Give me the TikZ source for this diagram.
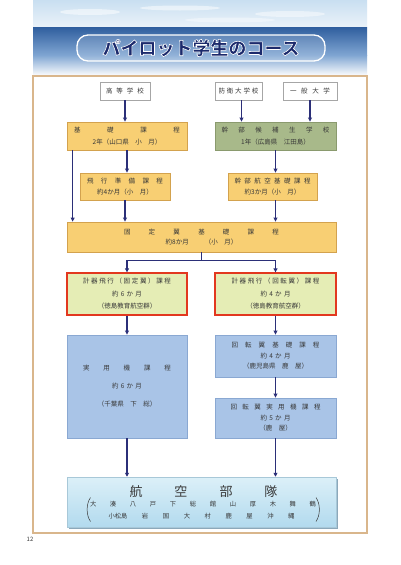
\documentclass[tikz,border=0pt]{standalone}
\usepackage{fontspec}
\newfontfamily\jp{Noto Sans CJK JP}
\usetikzlibrary{arrows.meta}
\definecolor{navy}{HTML}{2B2F78}
\definecolor{titlenavy}{HTML}{1C2A6C}
\definecolor{yfill}{HTML}{F8CF73}
\definecolor{yline}{HTML}{D3A24E}
\definecolor{gfill}{HTML}{A8B98A}
\definecolor{gline}{HTML}{8A9A6E}
\definecolor{lgfill}{HTML}{E5EDB5}
\definecolor{redline}{HTML}{E2381F}
\definecolor{bfill}{HTML}{A9C4E7}
\definecolor{bline}{HTML}{8AA8D2}
\definecolor{framec}{HTML}{D9B68C}
\definecolor{txt}{HTML}{383838}
\definecolor{skytop}{HTML}{C9DFF1}
\definecolor{skybot}{HTML}{EAF2F9}
\definecolor{seatop}{HTML}{2F5E9E}
\definecolor{seamid}{HTML}{7FA5D2}
\definecolor{kokutop}{HTML}{DCF0F8}
\definecolor{kokubot}{HTML}{B2DAEE}
\definecolor{kokushadow}{HTML}{8CA8BA}
\newcommand\spr[2]{\hbox to #1{#2}}
\newcommand\outlined[1]{\special{pdf:literal direct 2 Tr 0.6 w 1 1 1 RG}#1\special{pdf:literal direct 0 Tr}}
\tikzset{
  box/.style={draw, line width=0.7pt, inner sep=0pt, align=center, text=txt,
    font=\jp\fontsize{6.5}{12}\selectfont},
  wbox/.style={box, fill=white, draw=gray!70},
  ybox/.style={box, fill=yfill, draw=yline},
  gbox/.style={box, fill=gfill, draw=gline},
  rbox/.style={box, fill=lgfill, draw=redline, line width=1.1pt},
  bbox/.style={box, fill=bfill, draw=bline},
  arr/.style={navy, line width=1.2pt, -{Triangle[length=4pt,width=3.8pt]}},
  ln/.style={navy, line width=1.2pt},
  plain/.style={inner sep=0pt, text=txt},
}
\begin{document}
\begin{tikzpicture}[x=1pt,y=-1pt]
\useasboundingbox (0,0) rectangle (400,565);
\fill[white] (0,0) rectangle (400,565);
% banner
\shade[top color=skytop, bottom color=skybot] (33,0) rectangle (367,27);
\fill[white, opacity=0.5] (90,12) ellipse (30 and 3);
\fill[white, opacity=0.5] (180,8) ellipse (40 and 2.5);
\fill[white, opacity=0.45] (290,14) ellipse (35 and 3);
\fill[white, opacity=0.4] (230,20) ellipse (45 and 2.5);
\shade[top color=seatop, bottom color=seamid] (33,27) rectangle (367,55);
\shade[top color=seamid, bottom color=white] (33,55) rectangle (367,76);
\draw[white, line width=1.3pt, rounded corners=11pt, fill=white, fill opacity=0.15] (77,35) rectangle (325,61);
\node[inner sep=0pt, text=titlenavy, font=\jp\bfseries\fontsize{18}{18}\selectfont] (title) at (201,48) {\outlined{パイロット学生のコース}};
% frame
\draw[framec, line width=1.6pt] (33,76) rectangle (367,533);
\node[inner sep=0pt, text=txt, font=\jp\fontsize{6}{6}\selectfont] (pg) at (30,539) {12};
% boxes
\node[wbox, minimum width=50pt, minimum height=18pt] (hs) at (125,91) {\spr{38pt}{高\hfil 等\hfil 学\hfil 校}};
\node[wbox, minimum width=47pt, minimum height=18pt] (bd) at (238.5,91) {\spr{40pt}{防\hfil 衛\hfil 大\hfil 学\hfil 校}};
\node[wbox, minimum width=54pt, minimum height=18pt] (ip) at (310,91) {\spr{40pt}{一\hfil 般\hfil 大\hfil 学}};
\node[ybox, minimum width=120pt, minimum height=28pt] (kiso) at (127,136)
  {\spr{106pt}{基\hfil 礎\hfil 課\hfil 程}\\2年（山口県　小　月）};
\node[gbox, minimum width=121pt, minimum height=28pt] (kanbu) at (275.5,136)
  {\spr{108pt}{幹\hfil 部\hfil 候\hfil 補\hfil 生\hfil 学\hfil 校}\\1年（広島県　江田島）};
\node[ybox, minimum width=90pt, minimum height=27pt, font=\jp\fontsize{6.5}{10.5}\selectfont] (hikou) at (125,186.5)
  {\spr{76pt}{飛\hfil 行\hfil 準\hfil 備\hfil 課\hfil 程}\\約4か月（小　月）};
\node[ybox, minimum width=89pt, minimum height=27pt, font=\jp\fontsize{6.5}{10.5}\selectfont] (kokuu) at (272.5,186.5)
  {\spr{76pt}{幹\hfil 部\hfil 航\hfil 空\hfil 基\hfil 礎\hfil 課\hfil 程}\\約3か月（小　月）};
\node[ybox, minimum width=269pt, minimum height=30pt, font=\jp\fontsize{6.5}{10.5}\selectfont] (kotei) at (201.5,237)
  {\spr{155pt}{固\hfil 定\hfil 翼\hfil 基\hfil 礎\hfil 課\hfil 程}\\約8か月\hspace{16pt}（小　月）};
\node[rbox, minimum width=120pt, minimum height=42pt, font=\jp\fontsize{6.5}{12.5}\selectfont] (kei1) at (127,294)
  {\spr{88pt}{計\hfil 器\hfil 飛\hfil 行\hfil （\hfil 固\hfil 定\hfil 翼\hfil ）\hfil 課\hfil 程}\\
   \spr{30pt}{約\hfil 6\hfil か\hfil 月}\\（徳島教育航空群）};
\node[rbox, minimum width=121pt, minimum height=42pt, font=\jp\fontsize{6.5}{12.5}\selectfont] (kei2) at (275.5,294)
  {\spr{88pt}{計\hfil 器\hfil 飛\hfil 行\hfil （\hfil 回\hfil 転\hfil 翼\hfil ）\hfil 課\hfil 程}\\
   \spr{30pt}{約\hfil 4\hfil か\hfil 月}\\（徳島教育航空群）};
\node[bbox, minimum width=120pt, minimum height=103pt, font=\jp\fontsize{6.5}{18}\selectfont] (jitsu) at (127,386.5)
  {\spr{88pt}{実\hfil 用\hfil 機\hfil 課\hfil 程}\\
   \spr{30pt}{約\hfil 6\hfil か\hfil 月}\\（千葉県　下　総）};
\node[bbox, minimum width=121pt, minimum height=42pt, font=\jp\fontsize{6.5}{10.5}\selectfont] (kaiten1) at (275.5,356)
  {\spr{88pt}{回\hfil 転\hfil 翼\hfil 基\hfil 礎\hfil 課\hfil 程}\\
   \spr{30pt}{約\hfil 4\hfil か\hfil 月}\\（鹿児島県　鹿　屋）};
\node[bbox, minimum width=121pt, minimum height=40pt, font=\jp\fontsize{6.5}{10.5}\selectfont] (kaiten2) at (275.5,418)
  {\spr{90pt}{回\hfil 転\hfil 翼\hfil 実\hfil 用\hfil 機\hfil 課\hfil 程}\\
   \spr{30pt}{約\hfil 5\hfil か\hfil 月}\\（鹿　屋）};
% koku
\fill[kokushadow] (68.5,479) rectangle (337.5,528.5);
\node[inner sep=0pt, minimum width=269pt, minimum height=50pt, top color=kokutop, bottom color=kokubot, draw=kokubot!80!gray, line width=0.4pt] (koku) at (201.5,502) {};
\node[plain, font=\jp\fontsize{13}{13}\selectfont] (kokut1) at (203.5,492)
  {\spr{148pt}{航\hfil 空\hfil 部\hfil 隊}};
\node[plain, font=\jp\fontsize{6.3}{6.3}\selectfont] (kokut2) at (203,504.5)
  {\spr{226pt}{大\hfil 湊\hfil 八\hfil 戸\hfil 下\hfil 総\hfil 館\hfil 山\hfil 厚\hfil 木\hfil 舞\hfil 鶴}};
\node[plain, font=\jp\fontsize{6.3}{6.3}\selectfont] (kokut3) at (201.5,516)
  {\spr{186pt}{小松島\hfil 岩\hfil 国\hfil 大\hfil 村\hfil 鹿\hfil 屋\hfil 沖\hfil 縄}};
\draw[txt, line width=0.5pt] (90.5,497.5) .. controls (86,504) and (86,515) .. (90.5,521.5);
\draw[txt, line width=0.5pt] (316,497.5) .. controls (320.5,504) and (320.5,515) .. (316,521.5);
% arrows
\draw[arr] (hs.south) -- (hs.south |- kiso.north);
\draw[arr] ([xshift=3pt]bd.south) -- ([xshift=3pt]bd.south |- kanbu.north);
\draw[arr] (ip.south) -- (ip.south |- kanbu.north);
\draw[arr] (kiso.south) -- (kiso.south |- hikou.north);
\draw[arr] ([xshift=6pt]kiso.south west) -- ([xshift=6pt]kiso.south west |- kotei.north);
\draw[arr] (hikou.south) -- (hikou.south |- kotei.north);
\draw[arr] (kanbu.south) -- (kanbu.south |- kokuu.north);
\draw[arr] (kanbu.south |- kokuu.south) -- (kanbu.south |- kotei.north);
\coordinate (sp) at ([yshift=-8pt]kotei.south);
\draw[ln] (kotei.south) -- (sp);
\draw[arr] (sp) -| (kei1.north);
\draw[arr] (sp) -| (kei2.north);
\draw[arr] (kei1.south) -- (kei1.south |- jitsu.north);
\draw[arr] (kei2.south) -- (kei2.south |- kaiten1.north);
\draw[arr] (kaiten1.south) -- (kaiten1.south |- kaiten2.north);
\draw[arr] (jitsu.south) -- (jitsu.south |- koku.north);
\draw[arr] (kaiten2.south) -- (kaiten2.south |- koku.north);
\end{tikzpicture}
\end{document}
